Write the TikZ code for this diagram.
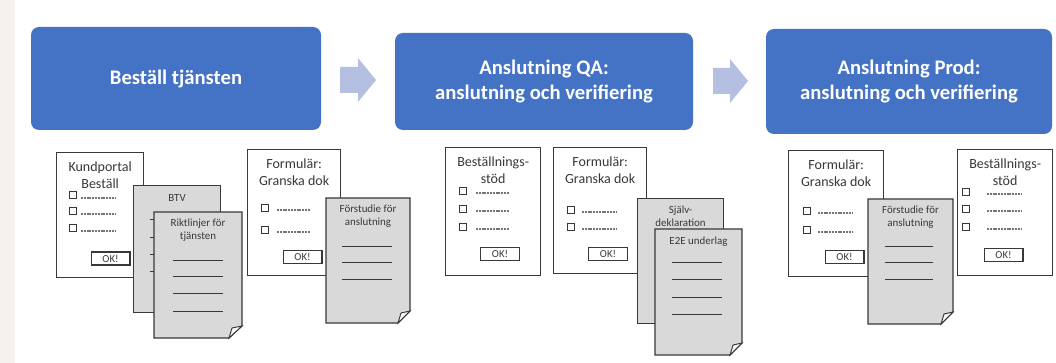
\documentclass[tikz,border=0pt]{standalone}
\usepackage{fontspec}
\setmainfont{Carlito}
\definecolor{boxblue}{HTML}{4472C4}
\definecolor{arrowblue}{HTML}{B4BFE2}
\definecolor{sheetgray}{HTML}{D9D9D9}
\definecolor{edge}{HTML}{383838}
\definecolor{bgbeige}{HTML}{F5F2EE}

\begin{document}
\begin{tikzpicture}[x=0.75pt, y=-0.75pt,
    every node/.style={inner sep=0pt, text=edge},
    phase/.style={rectangle, rounded corners=6pt, fill=boxblue, text=white, align=center,
        font=\bfseries\fontsize{15.5}{19}\selectfont},
    flow/.style={fill=arrowblue},
    form/.style={rectangle, draw=edge, line width=1pt, fill=white, anchor=north west},
    sheet/.style={draw=edge, line width=0.9pt, fill=sheetgray},
    fold/.style={draw=edge, line width=0.7pt, fill=white!85!sheetgray},
    title/.style={anchor=north, align=center, font=\fontsize{10.5}{12.75}\selectfont},
    small/.style={anchor=north, align=center, font=\fontsize{8.2}{9.75}\selectfont},
    chk/.style={rectangle, draw=edge, line width=0.9pt, minimum size=5.5pt},
    fillin/.style={draw=edge!70, line width=0.8pt, dash pattern=on 1.5pt off 0.6pt},
    okbtn/.style={rectangle, draw=edge, line width=1pt, fill=white, minimum width=29pt,
        minimum height=9.75pt, font=\fontsize{8}{8}\selectfont},
    rule/.style={draw=edge, line width=0.7pt}]

    % background
    \fill[white] (0,0) rectangle (1056,363);
    \fill[bgbeige] (0,0) rectangle (15,363);
    \useasboundingbox (0,0) rectangle (1056,363);

    % phases
    \node[phase, minimum width=217.5pt, minimum height=77.25pt] (order) at (176,78.5) {Beställ tjänsten};
    \node[phase, minimum width=223.5pt, minimum height=72.75pt] (qa) at (544,81.5) {Anslutning QA:\\anslutning och verifiering};
    \node[phase, minimum width=214.5pt, minimum height=78.75pt] (prod) at (909,81.5) {Anslutning Prod:\\anslutning och verifiering};

    % arrows between phases
    \coordinate (a1) at (340,80);
    \coordinate (a2) at (713,81);
    \fill[flow] (a1) ++(0,-13) -- ++(18,0) -- ++(0,-9) -- ++(18,22) -- ++(-18,22) -- ++(0,-9) -- ++(-18,0) -- cycle;
    \fill[flow] (a2) ++(0,-13) -- ++(17,0) -- ++(0,-9) -- ++(18,22) -- ++(-18,22) -- ++(0,-9) -- ++(-17,0) -- cycle;

    % Kundportal
    \node[form, minimum width=65.25pt, minimum height=93.75pt] (kund) at (56,152) {};
    \node[title] (kundt) at ([yshift=-7.5pt]kund.north) {Kundportal\\Beställ};
    \foreach \y in {195,211,228} {
        \node[chk] (kc\y) at (73,\y) {};
        \draw[fillin] (81,\y+3) -- (115,\y+3);
    }
    \node[okbtn] (kok) at (110.5,258.5) {OK!};

    % BTV
    \node[sheet, rectangle, minimum width=65.25pt, minimum height=95.25pt, anchor=north west] (btv) at (133,185) {};
    \node[small] (btvt) at ([yshift=-7pt]btv.north) {BTV};
    \foreach \y in {219,237,254,271}
        \draw[rule] (150,\y) -- (200,\y);

    % Riktlinjer
    \draw[sheet] (154,212) -- (242,212) -- (242,326) -- (229,338) -- (154,338) -- cycle;
    \draw[fold] (229,338) -- (232,328) -- (242,326) -- cycle;
    \node[small] (riktt) at (198,219) {Riktlinjer för\\tjänsten};
    \foreach \y in {260,276,293,311}
        \draw[rule] (173,\y) -- (223,\y);

    % Formular 1
    \node[form, minimum width=69.75pt, minimum height=94.5pt] (form1) at (247,149) {};
    \node[title] (form1t) at ([yshift=-7.5pt]form1.north) {Formulär:\\Granska dok};
    \foreach \y in {208,230} {
        \node[chk] (fa\y) at (265,\y) {};
        \draw[fillin] (277,\y+2) -- (310,\y+2);
    }
    \node[okbtn] (fok1) at (302.5,257) {OK!};

    % Forstudie 1
    \draw[sheet] (326,198) -- (410,198) -- (410,311) -- (398,323) -- (326,323) -- cycle;
    \draw[fold] (398,323) -- (401,313) -- (410,311) -- cycle;
    \node[small] (fs1t) at (368,205) {Förstudie för\\anslutning};
    \foreach \y in {246,262,279}
        \draw[rule] (342,\y) -- (392,\y);

    % Bestallningsstod 2
    \node[form, minimum width=71.25pt, minimum height=96pt] (best2) at (445,147) {};
    \node[title] (best2t) at ([yshift=-7.5pt]best2.north) {Beställnings-\\stöd};
    \foreach \y in {191,209,227} {
        \node[chk] (bb\y) at (463,\y) {};
        \draw[fillin] (476,\y+2) -- (509,\y+2);
    }
    \node[okbtn] (bok2) at (500,254) {OK!};

    % Formular 2
    \node[form, minimum width=69.75pt, minimum height=94.5pt] (form2) at (553,147) {};
    \node[title] (form2t) at ([yshift=-7.5pt]form2.north) {Formulär:\\Granska dok};
    \foreach \y in {210,227} {
        \node[chk] (fb\y) at (571,\y) {};
        \draw[fillin] (582,\y+2) -- (616,\y+2);
    }
    \node[okbtn] (fok2) at (608,254) {OK!};

    % Sjalvdeklaration
    \node[sheet, rectangle, minimum width=64.5pt, minimum height=93.75pt, anchor=north west] (selv) at (637,198) {};
    \node[small] (selvt) at ([yshift=-6pt]selv.north) {Själv-\\deklaration};

    % E2E underlag
    \draw[sheet] (655,229) -- (742,229) -- (742,343) -- (730,355) -- (655,355) -- cycle;
    \draw[fold] (730,355) -- (733,345) -- (742,343) -- cycle;
    \node[small] (e2et) at (698.5,237) {E2E underlag};
    \foreach \y in {262,279,297,314}
        \draw[rule] (672,\y) -- (722,\y);

    % Formular 3
    \node[form, minimum width=71.25pt, minimum height=94.5pt] (form3) at (788,150) {};
    \node[title] (form3t) at ([yshift=-7.5pt]form3.north) {Formulär:\\Granska dok};
    \foreach \y in {211,230} {
        \node[chk] (fc\y) at (807,\y) {};
        \draw[fillin] (818,\y+2) -- (853,\y+2);
    }
    \node[okbtn] (fok3) at (844.5,257) {OK!};

    % Forstudie 3
    \draw[sheet] (868,199) -- (953,199) -- (953,312) -- (941,324) -- (868,324) -- cycle;
    \draw[fold] (941,324) -- (944,314) -- (953,312) -- cycle;
    \node[small] (fs3t) at (910.5,206) {Förstudie för\\anslutning};
    \foreach \y in {246,262,279}
        \draw[rule] (885,\y) -- (933,\y);

    % Bestallningsstod 3
    \node[form, minimum width=71.25pt, minimum height=94.5pt] (best3) at (957,149) {};
    \node[title] (best3t) at ([yshift=-7.5pt]best3.north) {Beställnings-\\stöd};
    \foreach \y in {192,209,227} {
        \node[chk] (bc\y) at (966,\y) {};
        \draw[fillin] (987,\y+2) -- (1022,\y+2);
    }
    \node[okbtn] (bok3) at (1003.5,255) {OK!};
\end{tikzpicture}
\end{document}
